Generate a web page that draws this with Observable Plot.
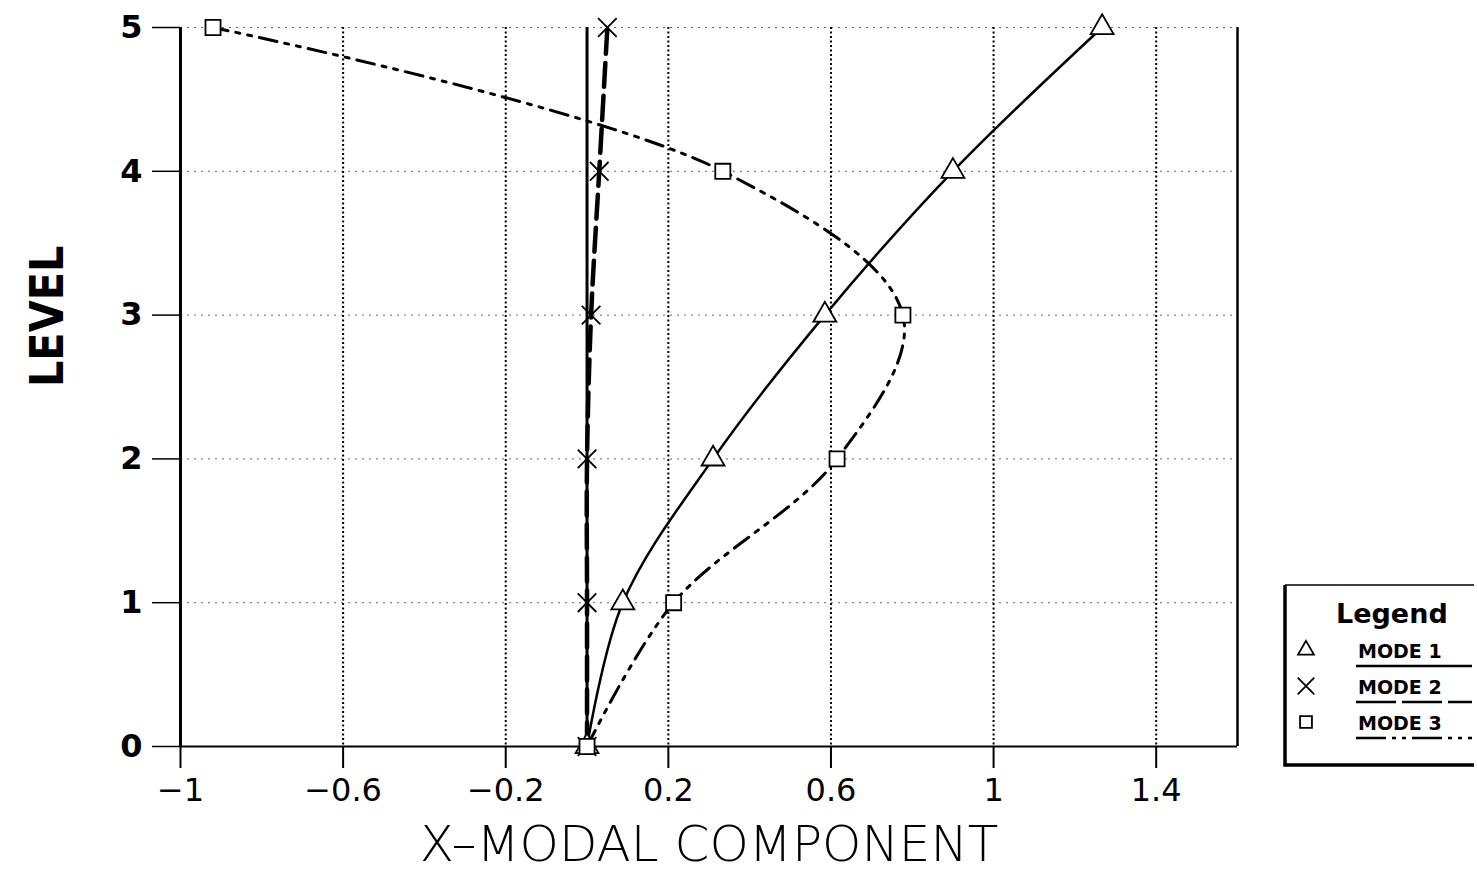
<!DOCTYPE html>
<html><head><meta charset="utf-8">
<script src="https://cdn.jsdelivr.net/npm/d3@7"></script>
<script src="https://cdn.jsdelivr.net/npm/@observablehq/plot@0.6"></script>
<style>
body{margin:0;background:#fff}
#wrap{position:relative;width:1477px;height:874px;overflow:hidden}
#legend{position:absolute;left:1282px;top:583px}
</style></head><body><div id="wrap"></div>
<script>
const levels = [0, 1, 2, 3, 4, 5];
const mode1 = [0, 0.088, 0.31, 0.585, 0.90, 1.267];
const mode2 = [0, 0, 0, 0.01, 0.03, 0.05];
const mode3 = [0, 0.213, 0.615, 0.777, 0.334, -0.92];
const xTicks = [-1, -0.6, -0.2, 0.2, 0.6, 1, 1.4];
const yTicks = [0, 1, 2, 3, 4, 5];
const modeNames = ["MODE 1", "MODE 2", "MODE 3"];

const rows = (vals, name) => levels.map((l, i) => ({level: l, x: vals[i], mode: name}));
const d1 = rows(mode1, modeNames[0]);
const d2 = rows(mode2, modeNames[1]);
const d3r = rows(mode3, modeNames[2]);

const styles = {
  "MODE 1": {symbol: "triangle", dash: null, width: 2.5},
  "MODE 2": {symbol: "times", dash: "24,9", width: 4.5},
  "MODE 3": {symbol: "square", dash: "18,8,4,8,4,8", width: 3}
};

const fmt = d => (d < 0 ? "\u2212" : "") + String(Math.abs(d));

const chart = Plot.plot({
  width: 1477, height: 874,
  marginLeft: 180, marginRight: 240, marginTop: 27, marginBottom: 128,
  style: {fontFamily: "'DejaVu Sans', sans-serif", background: "#fff", color: "#000"},
  x: {domain: [-1, 1.6], ticks: xTicks, tickFormat: fmt},
  y: {domain: [0, 5], ticks: yTicks, tickFormat: d => String(d)},
  marks: [
    Plot.ruleX(xTicks.slice(1), {stroke: "#000", strokeWidth: 2, strokeDasharray: "2,2.5"}),
    Plot.ruleY(yTicks.slice(1), {stroke: "#000", strokeWidth: 1, strokeOpacity: 0.6, strokeDasharray: "2,5"}),
    Plot.ruleX([0], {y1: 0, y2: 5, stroke: "#000", strokeWidth: 3}),
    Plot.ruleX([-1], {stroke: "#000", strokeWidth: 3}),
    Plot.ruleX([1.6], {stroke: "#000", strokeWidth: 2.5}),
    Plot.ruleY([0], {stroke: "#000", strokeWidth: 2}),
    Plot.axisX({ticks: xTicks, tickFormat: fmt, tickSize: 22, tickPadding: 10, fontSize: 32, strokeWidth: 2, label: null}),
    Plot.axisY({ticks: yTicks, tickFormat: d => String(d), tickSize: 28, tickPadding: 10, fontSize: 32, fontWeight: "bold", strokeWidth: 1.5, label: null}),
    ...[d1, d2, d3r].map(d => Plot.line(d, {x: "x", y: "level", curve: "catmull-rom", stroke: "#000",
      strokeWidth: styles[d[0].mode].width, strokeDasharray: styles[d[0].mode].dash})),
    ...[d1, d2, d3r].map(d => Plot.dot(d, {x: "x", y: "level", symbol: () => styles[d[0].mode].symbol,
      r: 8.5, stroke: "#000", strokeWidth: 1.8, fill: "#fff"})),
    Plot.text(["X\u2013MODAL COMPONENT"], {frameAnchor: "bottom", lineAnchor: "middle", dy: 98, fontSize: 50, fontWeight: 300, fill: "#000"}),
    Plot.text(["LEVEL"], {frameAnchor: "left", dx: -132, rotate: -90, fontSize: 46, fontWeight: "bold",
      fontFamily: "'Liberation Sans Narrow', 'DejaVu Sans Condensed', sans-serif", fill: "#000"})
  ]
});
document.getElementById("wrap").appendChild(chart);

// Legend
const lg = d3.select("#wrap").append("svg").attr("id", "legend").attr("width", 195).attr("height", 186)
  .style("font-family", "'DejaVu Sans', sans-serif");
lg.append("path").attr("d", "M3,2 V182 H192").attr("fill", "none").attr("stroke", "#000").attr("stroke-width", 3.5);
lg.append("path").attr("d", "M3,2 H192").attr("fill", "none").attr("stroke", "#000").attr("stroke-width", 1.5);
lg.append("text").attr("x", 54).attr("y", 40).attr("font-size", 27).attr("font-weight", "bold").text("Legend");
modeNames.forEach((m, i) => {
  const y = 68 + i * 36;
  const sym = d3.symbol().type(styles[m].symbol === "triangle" ? d3.symbolTriangle2 : styles[m].symbol === "times" ? d3.symbolTimes : d3.symbolSquare2).size(180);
  lg.append("path").attr("d", sym()).attr("transform", `translate(24,${y - 1})`).attr("fill", "none").attr("stroke", "#000").attr("stroke-width", 1.8);
  lg.append("text").attr("x", 76).attr("y", y + 7).attr("font-size", 19).attr("font-weight", "bold").text(m.replace(" ", "  "));
  lg.append("line").attr("x1", 74).attr("x2", 190).attr("y1", y + 15).attr("y2", y + 15)
    .attr("stroke", "#000").attr("stroke-width", 2.5).attr("stroke-dasharray", styles[m].dash ? (i === 1 ? "40,6" : "30,6,4,6,4,6") : null);
});
</script></body></html>
